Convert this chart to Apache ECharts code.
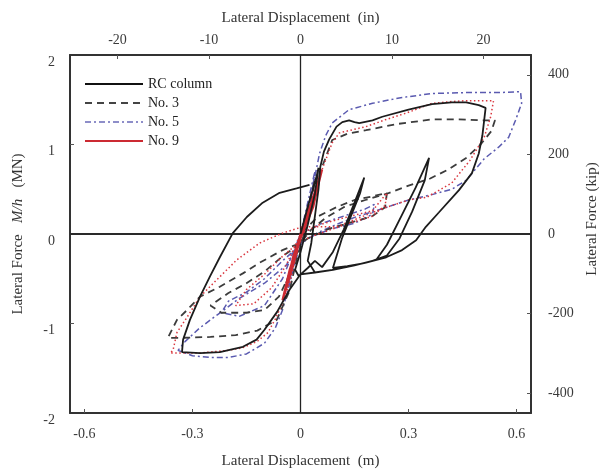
<!DOCTYPE html>
<html>
<head>
<meta charset="utf-8">
<script src="https://cdn.jsdelivr.net/npm/echarts@6/dist/echarts.min.js"></script>
<style>
  html, body { margin: 0; padding: 0; background: #fff; }
  #main { width: 603px; height: 472px; }
</style>
</head>
<body>
<div id="main"></div>
<script>
// lateral displacement (m), lateral force M/h (MN)
const rcColumn = [
  [0, 0], [0.02, 0.3], [0.045, 0.65], [0.05, 0.74], [0.04, 0.45], [0.02, 0.1], [0.0, -0.2],
  [-0.015, -0.4], [-0.005, -0.47], [0.02, -0.38], [0.04, -0.3], [0.06, -0.37],
  // loop to ~0.18 m
  [0.09, -0.2], [0.12, 0.05], [0.15, 0.35], [0.177, 0.63], [0.165, 0.45], [0.14, 0.2],
  [0.115, -0.05], [0.09, -0.38], [0.13, -0.36], [0.17, -0.33], [0.21, -0.29],
  // loop to ~0.36 m
  [0.24, -0.12], [0.28, 0.2], [0.32, 0.52], [0.357, 0.85], [0.345, 0.6], [0.31, 0.25],
  [0.275, -0.05], [0.24, -0.24], [0.2, -0.3], [0.15, -0.35], [0.09, -0.4], [0.04, -0.43],
  [0.02, -0.3], [0.03, -0.1],
  // big positive excursion
  [0.04, 0.2], [0.05, 0.5], [0.055, 0.75], [0.065, 0.92], [0.08, 1.06], [0.1, 1.2],
  [0.116, 1.25], [0.135, 1.27], [0.15, 1.25], [0.163, 1.24], [0.2, 1.27], [0.227, 1.31],
  [0.3, 1.39], [0.365, 1.45], [0.42, 1.47], [0.46, 1.47], [0.495, 1.44], [0.514, 1.41],
  [0.505, 1.1], [0.495, 0.9], [0.476, 0.68], [0.44, 0.49], [0.384, 0.24], [0.348, 0.08],
  [0.321, -0.07], [0.282, -0.18], [0.238, -0.26], [0.182, -0.32], [0.127, -0.37],
  [0.088, -0.4], [0.04, -0.43], [0.0, -0.45],
  // big negative excursion
  [-0.03, -0.62], [-0.065, -0.87], [-0.1, -1.07], [-0.122, -1.18], [-0.16, -1.26],
  [-0.224, -1.32], [-0.279, -1.33], [-0.329, -1.32], [-0.326, -1.18], [-0.307, -0.96],
  [-0.279, -0.7], [-0.252, -0.48], [-0.224, -0.26], [-0.188, 0.01], [-0.149, 0.19],
  [-0.105, 0.35], [-0.058, 0.46], [-0.011, 0.51], [0.025, 0.55]
];

const no3 = [
  [0, 0], [0.02, 0.3], [0.04, 0.6], [0.03, 0.35], [0.0, 0.0], [-0.02, -0.3], [-0.04, -0.55],
  [-0.02, -0.3], [0.0, 0.0],
  [0.05, 0.2], [0.1, 0.3], [0.15, 0.38], [0.2, 0.42], [0.24, 0.46], [0.235, 0.3],
  [0.2, 0.2], [0.15, 0.14], [0.08, 0.06], [0.02, -0.05],
  [-0.05, -0.25], [-0.1, -0.42], [-0.15, -0.55], [-0.2, -0.66], [-0.25, -0.8],
  [-0.22, -0.88], [-0.15, -0.88], [-0.1, -0.85], [-0.06, -0.7], [-0.03, -0.45], [0.0, -0.1],
  [0.03, 0.3], [0.06, 0.75], [0.088, 1.05], [0.13, 1.12], [0.182, 1.16], [0.27, 1.23],
  [0.365, 1.28], [0.44, 1.28], [0.5, 1.27], [0.54, 1.27], [0.53, 1.15], [0.5, 1.0],
  [0.46, 0.85], [0.41, 0.72], [0.36, 0.62], [0.3, 0.54], [0.24, 0.45], [0.18, 0.38],
  [0.12, 0.3], [0.07, 0.18], [0.03, 0.05], [0.0, -0.1],
  [-0.05, -0.18], [-0.113, -0.32], [-0.16, -0.44], [-0.224, -0.59], [-0.279, -0.7],
  [-0.315, -0.85], [-0.343, -0.96], [-0.362, -1.11], [-0.368, -1.16], [-0.33, -1.16],
  [-0.25, -1.15], [-0.18, -1.13], [-0.12, -1.08], [-0.066, -0.96], [-0.03, -0.63],
  [-0.011, -0.29], [0.01, 0.0]
];

const no5 = [
  [0, 0], [0.02, 0.35], [0.04, 0.7], [0.03, 0.4], [0.0, 0.0], [-0.02, -0.35], [-0.035, -0.6],
  [-0.02, -0.3], [0.0, 0.0],
  [0.06, 0.12], [0.12, 0.2], [0.18, 0.28], [0.205, 0.33], [0.2, 0.22], [0.15, 0.12],
  [0.08, 0.05], [0.02, -0.05],
  [-0.05, -0.3], [-0.1, -0.5], [-0.15, -0.65], [-0.2, -0.75], [-0.22, -0.88],
  [-0.17, -0.92], [-0.1, -0.8], [-0.05, -0.5], [-0.02, -0.2], [0.0, 0.0],
  [0.03, 0.45], [0.053, 0.9], [0.07, 1.1], [0.088, 1.24], [0.135, 1.39], [0.2, 1.46],
  [0.274, 1.52], [0.365, 1.57], [0.459, 1.58], [0.55, 1.58], [0.611, 1.59], [0.614, 1.46],
  [0.597, 1.27], [0.578, 1.08], [0.55, 0.97], [0.51, 0.84], [0.46, 0.6], [0.42, 0.5],
  [0.365, 0.44], [0.3, 0.38], [0.218, 0.27], [0.16, 0.2], [0.108, 0.12], [0.05, 0.02],
  [0.0, -0.1],
  [-0.04, -0.35], [-0.1, -0.55], [-0.17, -0.72], [-0.23, -0.9], [-0.28, -1.05],
  [-0.32, -1.2], [-0.34, -1.3], [-0.3, -1.36], [-0.25, -1.38], [-0.2, -1.38],
  [-0.15, -1.34], [-0.1, -1.22], [-0.07, -1.05], [-0.05, -0.85], [-0.03, -0.55], [0.0, -0.1]
];

// early small cycles of No. 9 (dense, look solid in the figure)
const no9Early = [
  [0, 0], [0.03, 0.35], [0.06, 0.72], [0.04, 0.4], [0.0, -0.02], [-0.03, -0.4],
  [-0.05, -0.74], [-0.03, -0.45], [0.0, -0.05], [0.035, 0.4], [0.058, 0.7], [0.035, 0.3],
  [-0.005, -0.1], [-0.04, -0.6], [-0.048, -0.72], [-0.02, -0.3], [0.01, 0.1], [0.05, 0.6],
  [0.055, 0.66], [0.02, 0.2], [-0.02, -0.25], [-0.045, -0.68], [-0.01, -0.2], [0, 0]
];

const no9 = [
  [0, 0], [0.05, 0.1], [0.12, 0.18], [0.2, 0.26], [0.24, 0.46], [0.235, 0.32], [0.2, 0.2],
  [0.12, 0.1], [0.05, 0.0], [0.0, -0.08],
  [-0.05, -0.25], [-0.1, -0.45], [-0.15, -0.62], [-0.18, -0.8], [-0.13, -0.78],
  [-0.08, -0.6], [-0.04, -0.35], [0, 0.0],
  [0.03, 0.35], [0.06, 0.72], [0.088, 1.02], [0.108, 1.13], [0.182, 1.2], [0.238, 1.28],
  [0.293, 1.35], [0.365, 1.46], [0.42, 1.48], [0.46, 1.49], [0.536, 1.49], [0.528, 1.31],
  [0.51, 1.08], [0.47, 0.82], [0.42, 0.57], [0.35, 0.41], [0.3, 0.38], [0.24, 0.3],
  [0.2, 0.24], [0.1, 0.08], [0.006, 0.08], [-0.05, 0.01], [-0.113, -0.1], [-0.177, -0.29],
  [-0.232, -0.51], [-0.279, -0.7], [-0.315, -0.93], [-0.343, -1.1], [-0.354, -1.3],
  [-0.362, -1.33], [-0.28, -1.33], [-0.2, -1.3], [-0.16, -1.27], [-0.12, -1.2],
  [-0.09, -1.1], [-0.07, -0.95], [-0.05, -0.77], [-0.03, -0.55], [-0.01, -0.2], [0.02, 0.2]
];

const xTicksM = [-0.6, -0.3, 0, 0.3, 0.6];
const xTicksIn = [-20, -10, 0, 10, 20];
const yTicksMN = [-2, -1, 0, 1, 2];
const yTicksKip = [-400, -200, 0, 200, 400];

const M_PER_IN = 0.0254;
const MN_PER_KIP = 0.0044482;
const X_MIN = -0.64, X_MAX = 0.64;
const Y_MIN = -2, Y_MAX = 2;

const SERIF = '"Liberation Serif", "DejaVu Serif", serif';
const TEXT = '#3a3a3a';
const FRAME = '#333';

function axisText(extra) {
  return Object.assign({ color: TEXT, fontFamily: SERIF, fontSize: 14 }, extra || {});
}

const chart = echarts.init(document.getElementById('main'), null, { renderer: 'canvas' });

const option = {
  animation: false,
  backgroundColor: '#fff',
  grid: { left: 70, right: 72, top: 55, bottom: 59, containLabel: false, outerBoundsMode: 'none' },
  legend: {
    orient: 'vertical',
    left: 79,
    top: 72,
    itemWidth: 58,
    itemHeight: 14,
    itemGap: 5,
    itemStyle: { opacity: 0 },
    textStyle: { color: '#222', fontFamily: SERIF, fontSize: 14 },
    data: [
      { name: 'RC column', itemStyle: { opacity: 0 }, lineStyle: { color: '#111', width: 2, type: 'solid' } },
      { name: 'No. 3', itemStyle: { opacity: 0 }, lineStyle: { color: '#444', width: 1.8, type: [7, 5] } },
      { name: 'No. 5', itemStyle: { opacity: 0 }, lineStyle: { color: '#6a6ab8', width: 1.5, type: [6, 3, 2, 3] } },
      { name: 'No. 9', itemStyle: { opacity: 0 }, lineStyle: { color: '#cc2a32', width: 2, type: 'solid' } }
    ]
  },
  xAxis: [
    {
      type: 'value', position: 'bottom', min: X_MIN, max: X_MAX,
      name: 'Lateral Displacement  (m)', nameLocation: 'middle', nameGap: 41,
      nameTextStyle: axisText({ fontSize: 15, color: '#333' }),
      axisLine: { onZero: false, lineStyle: { color: FRAME, width: 2 } },
      axisTick: { inside: true, length: 4, customValues: xTicksM.filter(v => v !== 0), lineStyle: { color: '#555' } },
      axisLabel: axisText({ customValues: xTicksM, margin: 14, formatter: v => String(v) }),
      splitLine: { show: false }
    },
    {
      type: 'value', position: 'top', min: X_MIN / M_PER_IN, max: X_MAX / M_PER_IN,
      name: 'Lateral Displacement  (in)', nameLocation: 'middle', nameGap: 29,
      nameTextStyle: axisText({ fontSize: 15, color: '#333' }),
      axisLine: { onZero: false, lineStyle: { color: FRAME, width: 2 } },
      axisTick: { inside: true, length: 4, customValues: xTicksIn.filter(v => v !== 0), lineStyle: { color: '#555' } },
      axisLabel: axisText({ customValues: xTicksIn, margin: 8, formatter: v => String(v) }),
      splitLine: { show: false }
    }
  ],
  yAxis: [
    {
      type: 'value', position: 'left', min: Y_MIN, max: Y_MAX,
      name: 'Lateral Force   {it|M/h}   (MN)', nameLocation: 'middle', nameGap: 44, nameRotate: 90,
      nameTextStyle: axisText({
        fontSize: 15, color: '#333',
        rich: { it: { fontStyle: 'italic', fontFamily: SERIF, fontSize: 15, color: '#333' } }
      }),
      axisLine: { onZero: false, lineStyle: { color: FRAME, width: 2 } },
      axisTick: { inside: true, length: 4, customValues: [-1, 1], lineStyle: { color: '#555' } },
      axisLabel: axisText({ customValues: yTicksMN, margin: 15, verticalAlign: 'top', lineHeight: 14, formatter: v => String(v) }),
      splitLine: { show: false }
    },
    {
      type: 'value', position: 'right', min: Y_MIN / MN_PER_KIP, max: Y_MAX / MN_PER_KIP,
      name: 'Lateral Force (kip)', nameLocation: 'middle', nameGap: 48, nameRotate: 90,
      nameTextStyle: axisText({ fontSize: 15, color: '#333', padding: [0, 0, 0, 30] }),
      axisLine: { onZero: false, lineStyle: { color: FRAME, width: 2 } },
      axisTick: { inside: true, length: 4, customValues: yTicksKip, lineStyle: { color: '#555' } },
      axisLabel: axisText({ customValues: yTicksKip, margin: 17, formatter: v => String(v) }),
      splitLine: { show: false }
    }
  ],
  series: [
    {
      name: 'RC column', type: 'line', data: rcColumn, symbol: 'none', z: 6,
      itemStyle: { color: '#1c1c1c' },
      lineStyle: { color: '#1c1c1c', width: 1.8 },
      markLine: {
        silent: true, symbol: 'none', label: { show: false },
        data: [
          { xAxis: 0, lineStyle: { color: '#222', width: 1.3, type: 'solid' } },
          { yAxis: 0, lineStyle: { color: '#2a2a2a', width: 2, type: 'solid' } }
        ]
      }
    },
    {
      name: 'No. 3', type: 'line', data: no3, symbol: 'none', z: 4,
      itemStyle: { color: '#3c3c3c' },
      lineStyle: { color: '#3c3c3c', width: 1.8, type: [7, 5] }
    },
    {
      name: 'No. 5', type: 'line', data: no5, symbol: 'none', z: 3,
      itemStyle: { color: '#5a5ab0' },
      lineStyle: { color: '#5a5ab0', width: 1.5, type: [6, 3, 2, 3] }
    },
    {
      name: 'No. 9', type: 'line', data: no9, symbol: 'none', z: 5,
      itemStyle: { color: '#d9363e' },
      lineStyle: { color: '#d9363e', width: 1.5, type: [1.5, 2.5] }
    },
    {
      name: 'No. 9', type: 'line', data: no9Early, symbol: 'none', z: 5,
      itemStyle: { color: '#cc2a32' },
      lineStyle: { color: '#cc2a32', width: 2.2 }
    }
  ]
};

chart.setOption(option);
</script>
</body>
</html>
